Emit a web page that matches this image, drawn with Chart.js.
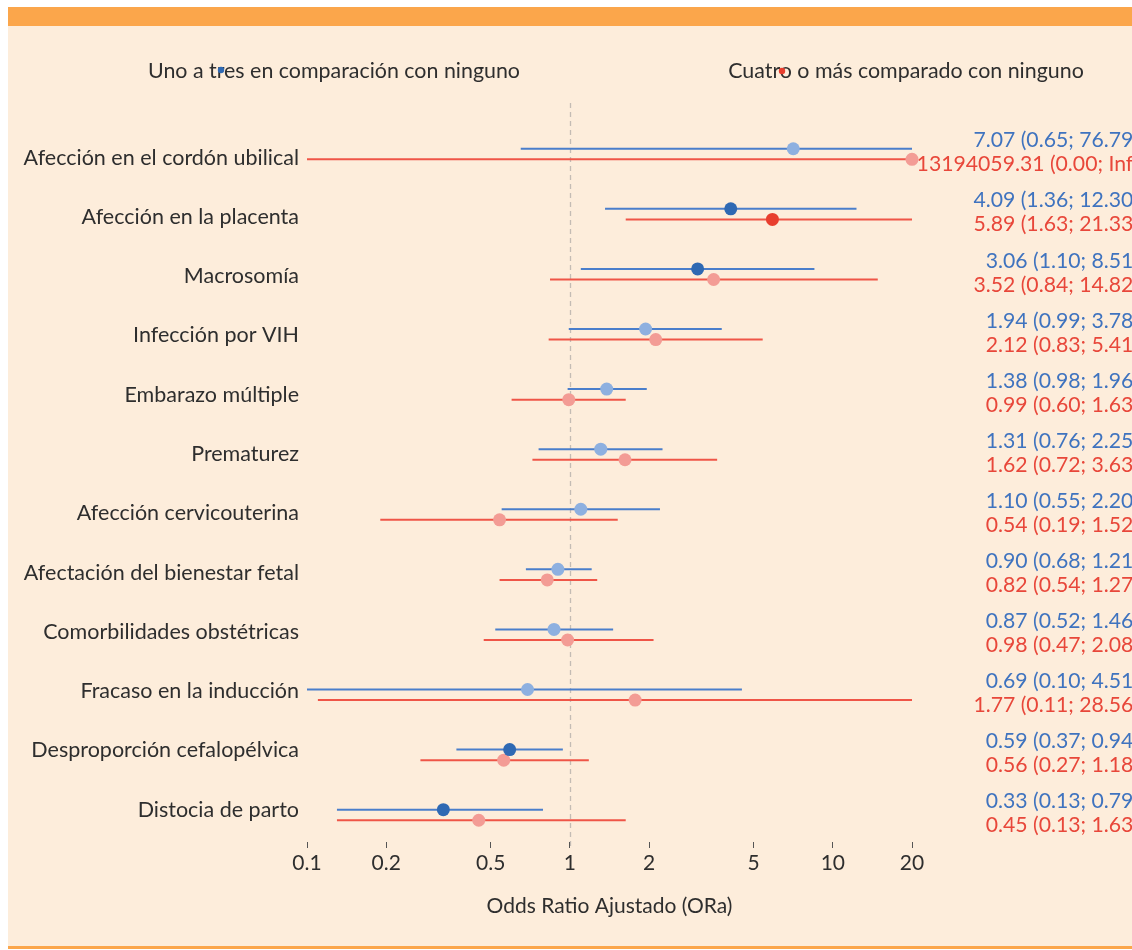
<!DOCTYPE html>
<html><head><meta charset="utf-8">
<script src="https://cdn.jsdelivr.net/npm/chart.js@4.4.1/dist/chart.umd.min.js"></script>
<style>html,body{margin:0;padding:0;background:#fff;overflow:hidden}#wrap{width:1132px;height:950px}</style>
</head><body><div id="wrap"><canvas id="c" width="1132" height="950"></canvas></div>
<script>
const categories = [
  'Afección en el cordón ubilical',
  'Afección en la placenta',
  'Macrosomía',
  'Infección por VIH',
  'Embarazo múltiple',
  'Prematurez',
  'Afección cervicouterina',
  'Afectación del bienestar fetal',
  'Comorbilidades obstétricas',
  'Fracaso en la inducción',
  'Desproporción cefalopélvica',
  'Distocia de parto'
];
const orBlue = [7.07, 4.09, 3.06, 1.94, 1.38, 1.31, 1.10, 0.90, 0.87, 0.69, 0.59, 0.33];
const loBlue = [0.65, 1.36, 1.10, 0.99, 0.98, 0.76, 0.55, 0.68, 0.52, 0.10, 0.37, 0.13];
const hiBlue = [76.79, 12.30, 8.51, 3.78, 1.96, 2.25, 2.20, 1.21, 1.46, 4.51, 0.94, 0.79];
const orRed = [13194059.31, 5.89, 3.52, 2.12, 0.99, 1.62, 0.54, 0.82, 0.98, 1.77, 0.56, 0.45];
const loRed = [0.00, 1.63, 0.84, 0.83, 0.60, 0.72, 0.19, 0.54, 0.47, 0.11, 0.27, 0.13];
const hiRed = [Infinity, 21.33, 14.82, 5.41, 1.63, 3.63, 1.52, 1.27, 2.08, 28.56, 1.18, 1.63];
const xTicks = [0.1, 0.2, 0.5, 1, 2, 5, 10, 20];
const seriesNames = ['Uno a tres en comparación con ninguno', 'Cuatro o más comparado con ninguno'];
const axisTitle = 'Odds Ratio Ajustado (ORa)';

const X_MIN = 0.1, X_MAX = 20;
const Y_OFF = 0.088;
const LABEL_START = 0.012, LABEL_STEP = 0.9864;
const FONT = 'Lato';
const C = {
  blueDark: '#2f69b3', blueLight: '#8eb0e0', blueLine: '#4a7ecb', blueText: '#3f73bf',
  redDark: '#e83e2e', redLight: '#f39c95', redLine: '#ef5547', redText: '#e8473a',
  text: '#2e2e2e'
};
const sig = (lo, hi) => lo > 1 || hi < 1;
const clampX = v => Math.max(X_MIN, Math.min(X_MAX, v));
const fmt = v => (isFinite(v) ? v.toFixed(2) : 'Inf');

const series = [
  {or: orBlue, lo: loBlue, hi: hiBlue, off: -Y_OFF, dark: C.blueDark, light: C.blueLight, line: C.blueLine, txt: C.blueText},
  {or: orRed, lo: loRed, hi: hiRed, off: Y_OFF, dark: C.redDark, light: C.redLight, line: C.redLine, txt: C.redText}
];

const bgPlugin = {
  id: 'bg',
  beforeDraw(chart) {
    const ctx = chart.ctx, W = chart.width, H = chart.height;
    ctx.save();
    ctx.fillStyle = '#ffffff'; ctx.fillRect(0, 0, W, H);
    ctx.fillStyle = '#fdeddb'; ctx.fillRect(8, 26, W - 8, 920);
    ctx.fillStyle = '#fba64b'; ctx.fillRect(8, 7, W - 8, 19);
    ctx.fillRect(8, 946, W - 8, 3);
    // reference line at OR = 1
    const xs = chart.scales.x, ys = chart.scales.y;
    const x1 = Math.round(xs.getPixelForValue(1)) + 0.5;
    ctx.strokeStyle = '#c4bcb4'; ctx.lineWidth = 1.3; ctx.setLineDash([5, 4]);
    ctx.beginPath(); ctx.moveTo(x1, ys.top - 24); ctx.lineTo(x1, ys.bottom + 4); ctx.stroke();
    ctx.setLineDash([]);
    ctx.restore();
  },
  beforeDatasetsDraw(chart) {
    const ctx = chart.ctx, xs = chart.scales.x, ys = chart.scales.y;
    ctx.save();
    // value labels (right column)
    ctx.font = '21.2px ' + FONT; ctx.textAlign = 'right'; ctx.textBaseline = 'middle';
    categories.forEach((c, i) => {
      const yc = ys.getPixelForValue(i);
      ctx.fillStyle = C.blueText;
      ctx.fillText(`${fmt(orBlue[i])} (${fmt(loBlue[i])}; ${fmt(hiBlue[i])})`, 1139, yc - 13.5);
      ctx.fillStyle = C.redText;
      ctx.fillText(`${fmt(orRed[i])} (${fmt(loRed[i])}; ${fmt(hiRed[i])})`, 1139, yc + 10.5);
    });
    // confidence intervals
    ctx.lineWidth = 2;
    series.forEach(s => {
      ctx.strokeStyle = s.line;
      categories.forEach((c, i) => {
        const y = ys.getPixelForValue(i + s.off);
        ctx.beginPath();
        ctx.moveTo(xs.getPixelForValue(clampX(s.lo[i])), y);
        ctx.lineTo(xs.getPixelForValue(clampX(s.hi[i])), y);
        ctx.stroke();
      });
    });
    ctx.restore();
  },
  afterDraw(chart) {
    const ctx = chart.ctx;
    ctx.save();
    // legend
    ctx.font = '21.4px ' + FONT; ctx.fillStyle = C.text; ctx.textAlign = 'center'; ctx.textBaseline = 'middle';
    ctx.fillText(seriesNames[0], 334, 71);
    ctx.fillText(seriesNames[1], 906, 71);
    ctx.fillStyle = C.blueDark; ctx.beginPath(); ctx.arc(221, 70, 3.2, 0, Math.PI * 2); ctx.fill();
    ctx.fillStyle = C.redDark; ctx.beginPath(); ctx.arc(782, 71, 3.2, 0, Math.PI * 2); ctx.fill();
    ctx.restore();
  }
};

const datasets = series.map((s, k) => ({
  label: seriesNames[k],
  data: s.or.map((v, i) => ({x: clampX(v), y: i + s.off})),
  pointRadius: 6.5, pointHoverRadius: 6.5, borderWidth: 0,
  pointBackgroundColor: s.or.map((v, i) => sig(s.lo[i], s.hi[i]) ? s.dark : s.light),
  showLine: false, clip: false
}));

new Chart(document.getElementById('c'), {
  type: 'scatter',
  data: {datasets},
  plugins: [bgPlugin],
  options: {
    responsive: false, animation: false, devicePixelRatio: 1,
    layout: {padding: {top: 127, right: 220, bottom: 0, left: 0}},
    plugins: {legend: {display: false}, tooltip: {enabled: false}},
    scales: {
      x: {
        type: 'logarithmic', min: X_MIN, max: X_MAX,
        afterBuildTicks: s => { s.ticks = xTicks.map(v => ({value: v})); },
        afterFit: s => { s.height = 108; },
        ticks: {callback: v => String(v), font: {family: FONT, size: 21}, color: C.text, padding: 3, autoSkip: false, maxRotation: 0},
        grid: {drawOnChartArea: false, drawTicks: true, tickLength: 6, color: '#555', lineWidth: 1},
        border: {display: false},
        title: {display: true, text: axisTitle, font: {family: FONT, size: 21}, color: C.text, padding: {top: 0, bottom: 31}}
      },
      y: {
        type: 'linear', reverse: true, min: -0.45, max: 11.45,
        afterBuildTicks: s => { s.ticks = categories.map((c, i) => ({value: LABEL_START + i * LABEL_STEP})); },
        afterFit: s => { s.width = 307; },
        ticks: {callback: (v, idx) => categories[idx], font: {family: FONT, size: 21.5}, color: C.text, padding: 8, autoSkip: false, labelOffset: 3},
        grid: {display: false, drawTicks: false},
        border: {display: false}
      }
    }
  }
});
</script>
</body></html>
